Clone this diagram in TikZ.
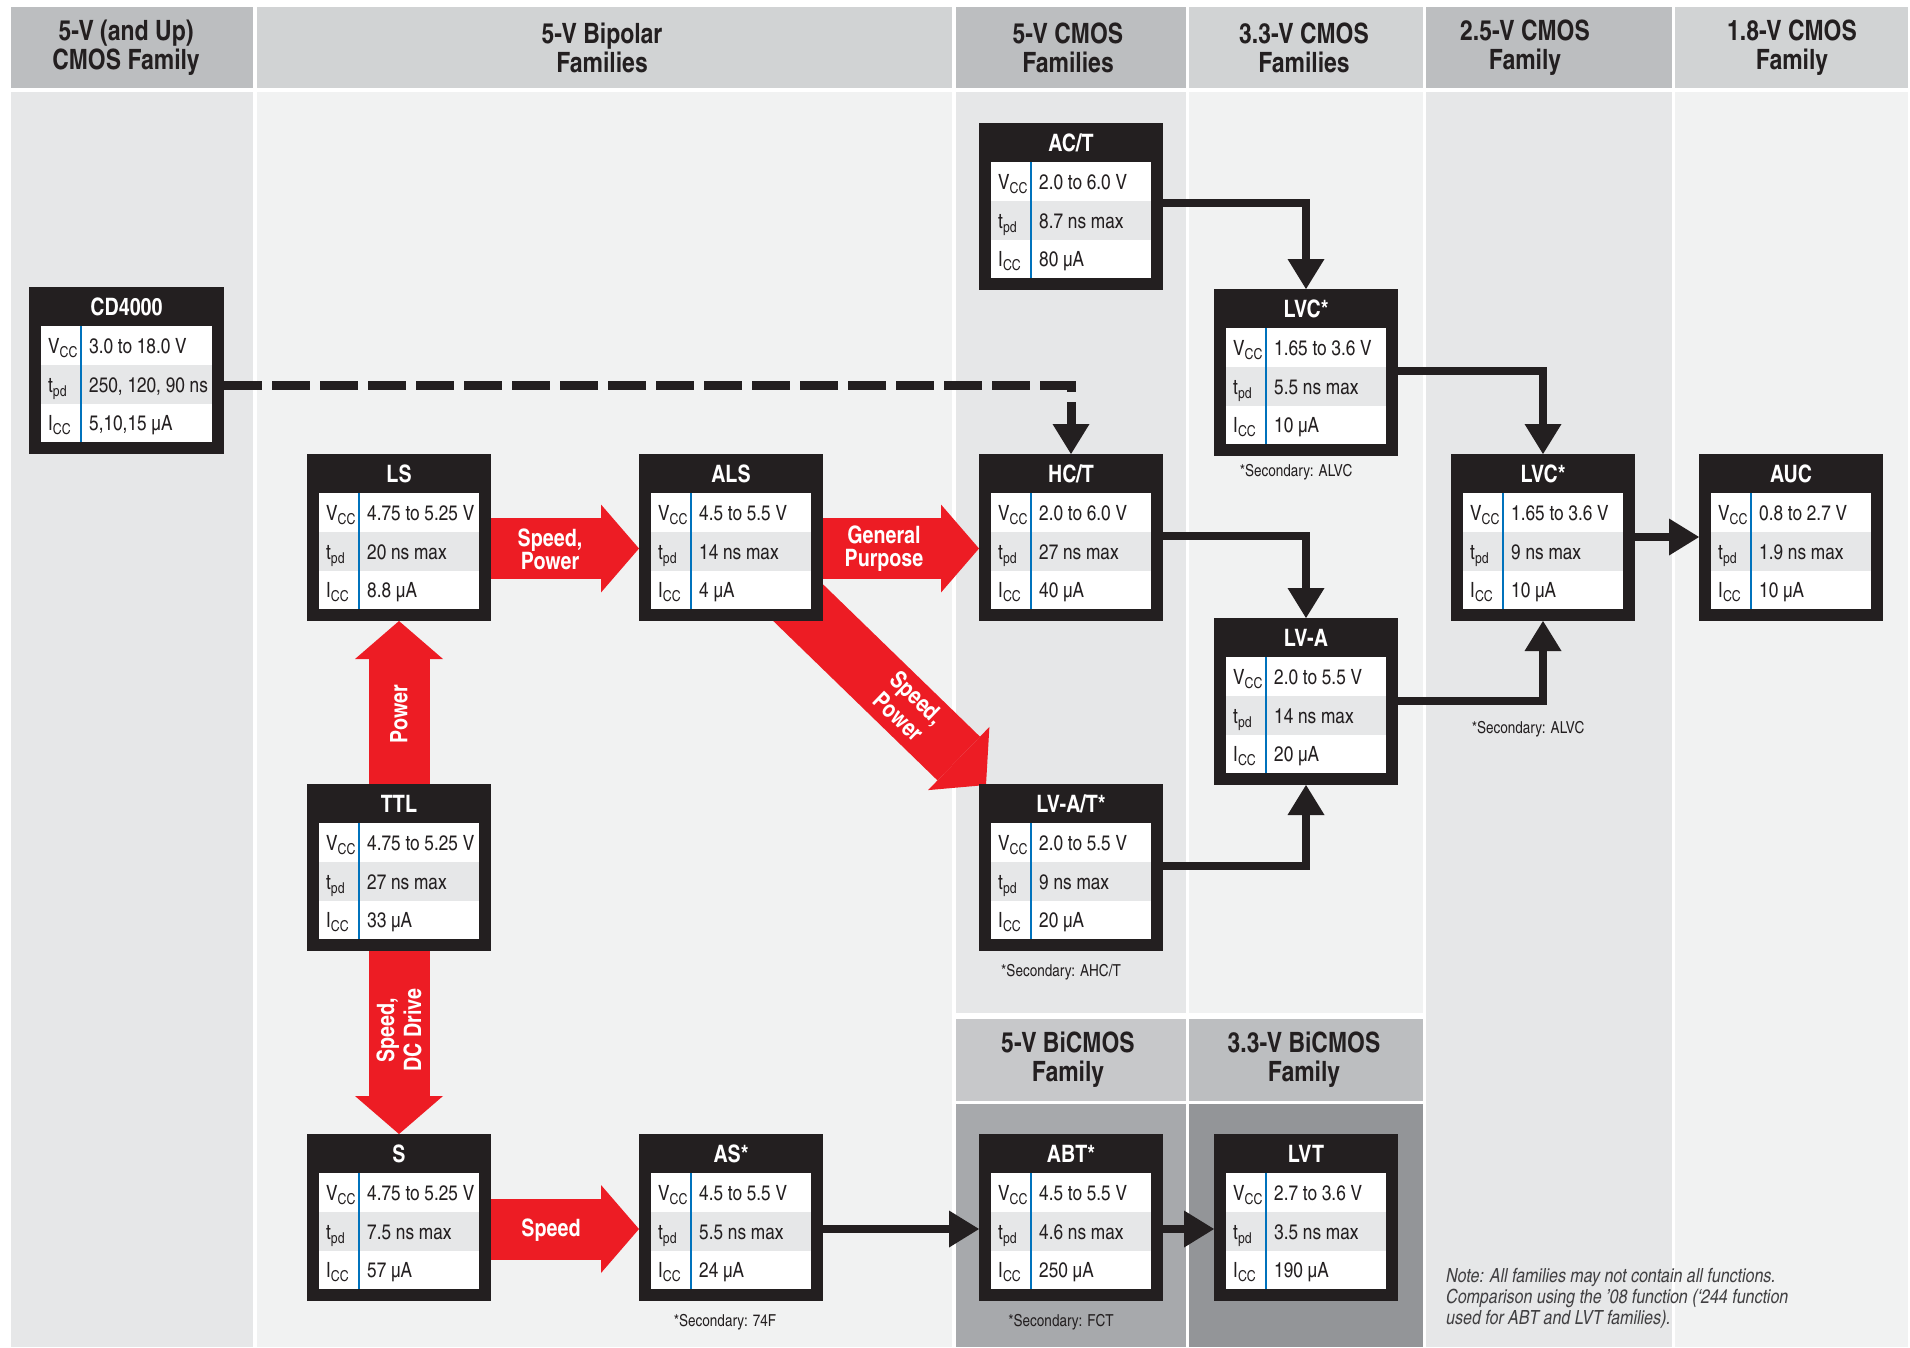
\documentclass[tikz,border=0pt]{standalone}
\usepackage{fontspec}
\setmainfont{texgyreheroscn}[Extension=.otf, UprightFont=*-regular, BoldFont=*-bold, ItalicFont=*-italic, BoldItalicFont=*-bolditalic]
\usetikzlibrary{arrows.meta,calc}
\definecolor{hdrdark}{HTML}{BCBEC0}
\definecolor{hdrlight}{HTML}{D1D3D4}
\definecolor{bodydark}{HTML}{E6E7E8}
\definecolor{bodylight}{HTML}{F1F2F2}
\definecolor{bihdrA}{HTML}{C7C8CA}
\definecolor{bihdrB}{HTML}{BCBEC0}
\definecolor{bibodyA}{HTML}{A7A9AC}
\definecolor{bibodyB}{HTML}{939598}
\definecolor{framec}{HTML}{231F20}
\definecolor{rowgray}{HTML}{E6E7E8}
\definecolor{sepblue}{HTML}{0072BC}
\definecolor{redc}{HTML}{ED1C24}
\definecolor{notec}{HTML}{414042}
\pgfdeclarelayer{bg}
\pgfdeclarelayer{links}
\pgfsetlayers{bg,links,main}
\newcommand\famsub[1]{\raisebox{-4pt}{\fontsize{15pt}{15pt}\selectfont #1}}
\newcommand\famtable[8]{%
  \node[famframe, minimum width=#4pt, anchor=north west] (#1) at (#2,#3) {};
  \begin{scope}[shift={(#2,#3)}]
    \fill[white] (12,39) rectangle (#4-12,155);
    \fill[rowgray] (12,78) rectangle (#4-12,117);
    \draw[sepblue, line width=1.6pt] (52,39) -- (52,155);
    \node[famtitle] (#1-title) at (#4/2,28) {#5};
    \node[famcell] (#1-vl) at (19,66) {V\famsub{CC}};
    \node[famcell] (#1-vv) at (60,66) {#6};
    \node[famcell] (#1-tl) at (19,105) {t\famsub{pd}};
    \node[famcell] (#1-tv) at (60,105) {#7};
    \node[famcell] (#1-il) at (19,143) {I\famsub{CC}};
    \node[famcell] (#1-iv) at (60,143) {#8};
  \end{scope}
}
\tikzset{
  famframe/.style={fill=framec, draw=none, minimum height=167pt, inner sep=0pt, outer sep=0pt},
  famtitle/.style={anchor=base, text=white, font=\bfseries\fontsize{24pt}{24pt}\selectfont, inner sep=0pt},
  famcell/.style={anchor=base west, text=framec, font=\fontsize{21pt}{21pt}\selectfont, inner sep=0pt},
  hdrtext/.style={align=center, text=framec, font=\bfseries\fontsize{28pt}{29pt}\selectfont, inner sep=0pt},
  redlabel/.style={align=center, text=white, font=\bfseries\fontsize{24pt}{23pt}\selectfont, inner sep=0pt},
  redlabelwide/.style={align=center, text=white, font=\bfseries\fontsize{24pt}{27pt}\selectfont, inner sep=0pt},
  secnote/.style={text=framec, font=\fontsize{16.5pt}{16.5pt}\selectfont, inner sep=0pt},
  notetext/.style={align=left, text=notec, font=\itshape\fontsize{19.5pt}{21pt}\selectfont, inner sep=0pt},
  fatred/.style={redc, line width=61pt, -{Triangle[length=38pt,width=88pt,line width=0pt]}},
  blackcon/.style={framec, line width=8pt, -{Triangle[length=30pt,width=37pt,line width=0pt]}},
  dashcon/.style={blackcon, line width=9pt, dash pattern=on 38pt off 10pt}
}
\begin{document}
\begin{tikzpicture}[x=1pt,y=-1pt]
\useasboundingbox (0,0) rectangle (1910,1347);
\begin{pgfonlayer}{bg}
 \fill[white] (0,0) rectangle (1910,1347);
 \fill[hdrdark] (11,7) rectangle (253,88);
 \fill[bodydark] (11,92) rectangle (253,1347);
 \fill[hdrlight] (257,7) rectangle (952,88);
 \fill[bodylight] (257,92) rectangle (952,1347);
 \fill[hdrdark] (956,7) rectangle (1186,88);
 \fill[bodydark] (956,92) rectangle (1186,1013);
 \fill[hdrlight] (1189,7) rectangle (1423,88);
 \fill[bodylight] (1189,92) rectangle (1423,1013);
 \fill[hdrdark] (1426,7) rectangle (1672,88);
 \fill[bodydark] (1426,92) rectangle (1672,1347);
 \fill[hdrlight] (1675,7) rectangle (1908,88);
 \fill[bodylight] (1675,92) rectangle (1908,1347);
 \fill[bihdrA] (956,1019) rectangle (1186,1101);
 \fill[bibodyA] (956,1104) rectangle (1186,1347);
 \fill[bihdrB] (1189,1019) rectangle (1423,1101);
 \fill[bibodyB] (1189,1104) rectangle (1423,1347);
\end{pgfonlayer}

% headers
\node[hdrtext] (h1) at (126,48) {5-V (and Up)\\CMOS Family};
\node[hdrtext] (h2) at (602,48) {5-V Bipolar\\Families};
\node[hdrtext] (h3) at (1068,48) {5-V CMOS\\Families};
\node[hdrtext] (h4) at (1304,48) {3.3-V CMOS\\Families};
\node[hdrtext] (h5) at (1525,48) {2.5-V CMOS\\Family};
\node[hdrtext] (h6) at (1792,48) {1.8-V CMOS\\Family};
\node[hdrtext] (h7) at (1068,1060) {5-V BiCMOS\\Family};
\node[hdrtext] (h8) at (1304,1060) {3.3-V BiCMOS\\Family};

% family boxes
\famtable{cd}{29}{287}{195}{CD4000}{3.0 to 18.0 V}{250, 120, 90 ns}{5,10,15 µA}
\famtable{ls}{307}{454}{184}{LS}{4.75 to 5.25 V}{20 ns max}{8.8 µA}
\famtable{als}{639}{454}{184}{ALS}{4.5 to 5.5 V}{14 ns max}{4 µA}
\famtable{ttl}{307}{784}{184}{TTL}{4.75 to 5.25 V}{27 ns max}{33 µA}
\famtable{s}{307}{1134}{184}{S}{4.75 to 5.25 V}{7.5 ns max}{57 µA}
\famtable{as}{639}{1134}{184}{AS*}{4.5 to 5.5 V}{5.5 ns max}{24 µA}
\famtable{act}{979}{123}{184}{AC/T}{2.0 to 6.0 V}{8.7 ns max}{80 µA}
\famtable{hct}{979}{454}{184}{HC/T}{2.0 to 6.0 V}{27 ns max}{40 µA}
\famtable{lvat}{979}{784}{184}{LV-A/T*}{2.0 to 5.5 V}{9 ns max}{20 µA}
\famtable{abt}{979}{1134}{184}{ABT*}{4.5 to 5.5 V}{4.6 ns max}{250 µA}
\famtable{lvc3}{1214}{289}{184}{LVC*}{1.65 to 3.6 V}{5.5 ns max}{10 µA}
\famtable{lva}{1214}{618}{184}{LV-A}{2.0 to 5.5 V}{14 ns max}{20 µA}
\famtable{lvt}{1214}{1134}{184}{LVT}{2.7 to 3.6 V}{3.5 ns max}{190 µA}
\famtable{lvc25}{1451}{454}{184}{LVC*}{1.65 to 3.6 V}{9 ns max}{10 µA}
\famtable{auc}{1699}{454}{184}{AUC}{0.8 to 2.7 V}{1.9 ns max}{10 µA}

% connectors
\begin{pgfonlayer}{links}
 \draw[fatred] ($(ls.east)+(0,11)$) -- ($(als.west)+(0,11)$);
 \draw[fatred] ($(als.east)+(0,11)$) -- ($(hct.west)+(0,11)$);
 \draw[fatred] (als.center) -- ($(lvat.north west)+(7,1)$);
 \draw[fatred] (ttl.north) -- (ls.south);
 \draw[fatred] (ttl.south) -- (s.north);
 \draw[fatred] ($(s.east)+(0,11.5)$) -- ($(as.west)+(0,11.5)$);
 \draw[dashcon] ($(cd.east)+(0,14.5)$) -| (hct.north);
 \draw[blackcon] ($(act.north east)+(0,80)$) -| (lvc3.north);
 \draw[blackcon] ($(hct.north east)+(0,82)$) -| (lva.north);
 \draw[blackcon] ($(lvc3.north east)+(0,82)$) -| (lvc25.north);
 \draw[blackcon] ($(lva.north east)+(0,83)$) -| (lvc25.south);
 \draw[blackcon] ($(lvat.north east)+(0,82)$) -| (lva.south);
 \draw[blackcon] ($(lvc25.north east)+(0,83)$) -- ($(auc.north west)+(0,83)$);
 \draw[blackcon] ($(as.north east)+(0,95)$) -- ($(abt.north west)+(0,95)$);
 \draw[blackcon] ($(abt.north east)+(0,95)$) -- ($(lvt.north west)+(0,95)$);
\end{pgfonlayer}

% red arrow labels
\node[redlabel] (lbl1) at (550,549) {Speed,\\Power};
\node[redlabel] (lbl2) at (884,549) {General\\Purpose};
\node[redlabel, rotate=90] (lbl3) at (399,714) {Power};
\node[redlabelwide, rotate=90] (lbl4) at (399,1030) {Speed,\\DC Drive};
\node[redlabel] (lbl5) at (551,1230) {Speed};
\node[redlabelwide, rotate=-44] (lbl6) at (908,707) {Speed,\\Power};

% secondary notes
\node[secnote] (sec1) at (1296,472) {*Secondary: ALVC};
\node[secnote] (sec2) at (1528,729) {*Secondary: ALVC};
\node[secnote] (sec3) at (1061,972) {*Secondary: AHC/T};
\node[secnote] (sec4) at (725,1322) {*Secondary: 74F};
\node[secnote] (sec5) at (1061,1322) {*Secondary: FCT};

\node[notetext, anchor=north west] (note) at (1446,1268) {Note: All families may not contain all functions.\\Comparison using the ’08 function (‘244 function\\used for ABT and LVT families).};
\end{tikzpicture}
\end{document}
